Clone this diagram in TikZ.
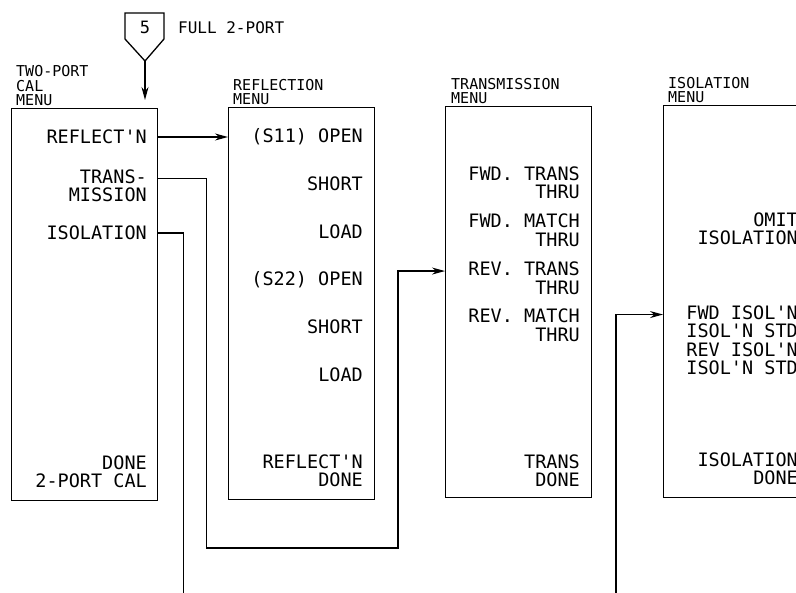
\documentclass[tikz,border=0pt]{standalone}
\usepackage{fontspec}
\newfontfamily\plotfont{DejaVu Sans Mono}
\usetikzlibrary{arrows.meta, positioning, calc}

\begin{document}
\begin{tikzpicture}[x=1pt, y=-1pt,
  menu/.style={draw, line width=1.3pt, minimum width=146pt,
               minimum height=392pt, inner sep=0pt, anchor=north west},
  item/.style={anchor=east, align=right, inner sep=0pt,
               font=\plotfont\fontsize{18.5}{18.5}\selectfont},
  caption/.style={align=left, inner sep=0pt,
               font=\plotfont\fontsize{15}{14.5}\selectfont},
  wire/.style={line width=1.3pt, -{Stealth[length=13pt, width=7pt]}}]

  \useasboundingbox (0,0) rectangle (796,593);
  \clip (0,0) rectangle (796,593);

  % softkey marker at the top
  \draw[line width=1.3pt] (125,13) -- (164,13) -- (164,39) -- (145,61) -- (125,39) -- cycle;
  \node[inner sep=0pt, font=\plotfont\fontsize{17}{17}\selectfont] (key) at (145,27) {5};
  \coordinate (keytip) at (145,61);
  \node[caption, anchor=west, font=\plotfont\fontsize{16}{16}\selectfont] (full) at (178,28) {FULL 2-PORT};

  % the four menus
  \node[menu] (cal) at (11,108) {};
  \node[menu] (refmenu) at (228,107) {};
  \node[menu, minimum height=391pt] (transmenu) at (445,106) {};
  \node[menu, minimum height=392pt] (isomenu) at (663,105) {};

  \node[caption, above right=2pt and 5pt of cal.north west] (calcap) {TWO-PORT\\CAL\\MENU};
  \node[caption, above right=2pt and 5pt of refmenu.north west] (refcap) {REFLECTION\\MENU};
  \node[caption, above right=2pt and 6pt of transmenu.north west] (transcap) {TRANSMISSION\\MENU};
  \node[caption, above right=2pt and 5pt of isomenu.north west] (isocap) {ISOLATION\\MENU};

  % two-port cal menu
  \node[item] (refl) at (147,137) {REFLECT'N};
  \node[item] (trans) at (147,186) {TRANS-\\MISSION};
  \node[item] (isol) at (147,233) {ISOLATION};
  \node[item] (caldone) at (147,472) {DONE\\2-PORT CAL};

  % reflection menu
  \node[item] (open1) at (363,137) {(S11) OPEN};
  \node[item] (short1) at (363,184) {SHORT};
  \node[item] (load1) at (363,232) {LOAD};
  \node[item] (open2) at (363,280) {(S22) OPEN};
  \node[item] (short2) at (363,327) {SHORT};
  \node[item] (load2) at (363,375) {LOAD};
  \node[item] (refdone) at (363,471) {REFLECT'N\\DONE};

  % transmission menu
  \node[item] (fwdtrans) at (580,183) {FWD. TRANS\\THRU};
  \node[item] (fwdmatch) at (580,230.5) {FWD. MATCH\\THRU};
  \node[item] (revtrans) at (580,278.5) {REV. TRANS\\THRU};
  \node[item] (revmatch) at (580,325.5) {REV. MATCH\\THRU};
  \node[item] (transdone) at (580,471) {TRANS\\DONE};

  % isolation menu
  \node[item] (omit) at (798,229) {OMIT\\ISOLATION};
  \node[item] (fwdiso) at (798,322) {FWD ISOL'N\\ISOL'N STD};
  \node[item] (reviso) at (798,359) {REV ISOL'N\\ISOL'N STD};
  \node[item] (isodone) at (798,469) {ISOLATION\\DONE};

  % rows of the two-line keys that the wires use
  \path (trans.north) ++(0,9) coordinate (transrow);
  \path (revtrans.north) ++(0,9) coordinate (revtransrow);
  \path (fwdiso.north) ++(0,9) coordinate (fwdisorow);

  \draw[wire, shorten >=8pt] (keytip) -- (cal.north -| keytip);
  \draw[wire] (cal.east |- refl) -- (refmenu.west |- refl);
  \draw[wire] (cal.east |- transrow) -- ++(48,0) |- (398,548) |- (transmenu.west |- revtransrow);
  \draw[wire] (cal.east |- isol) -- ++(25,0) |- (616,640) |- (isomenu.west |- fwdisorow);
\end{tikzpicture}
\end{document}
